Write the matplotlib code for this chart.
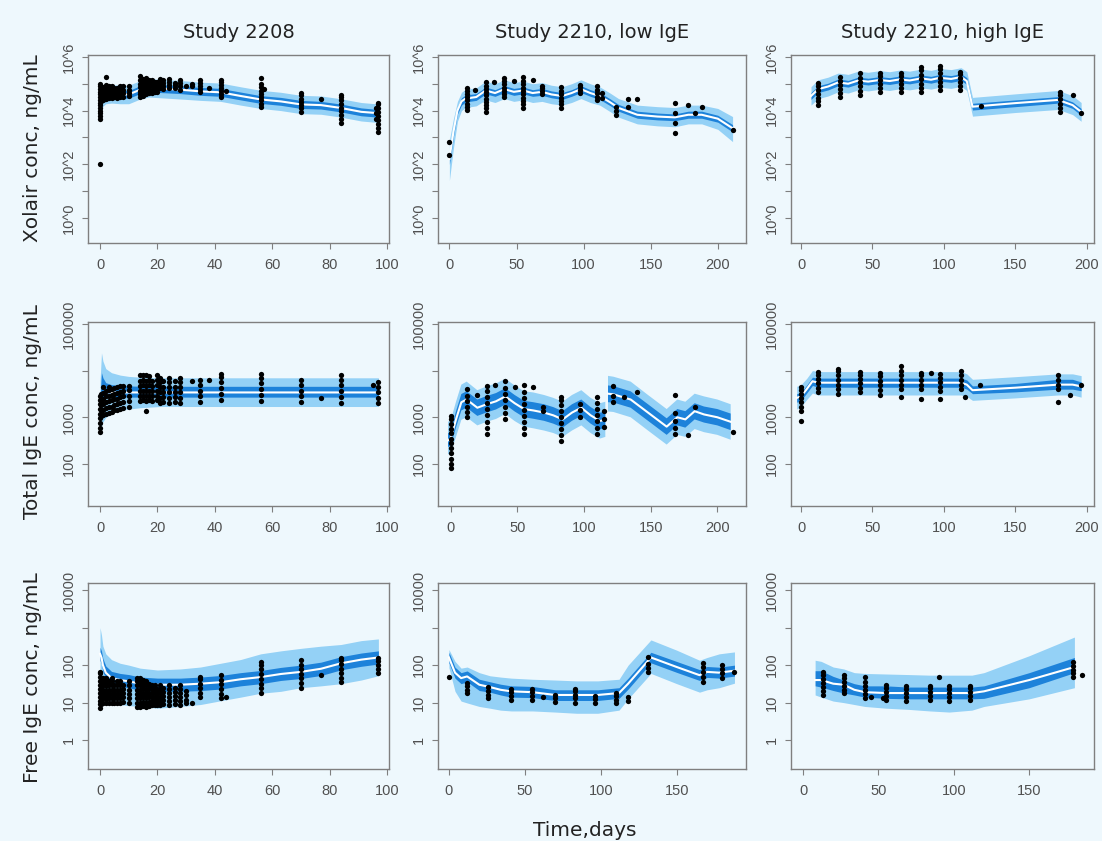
import matplotlib.pyplot as plt

W, H = 1102, 841
BG = "#eef8fd"
OUTER = "#94d1f6"
INNER = "#1d82da"
SPINE = "#7f7f7f"
TICKFONT = ["Liberation Sans Narrow", "Liberation Sans", "DejaVu Sans"]

TITLES = ["Study 2208", "Study 2210, low IgE", "Study 2210, high IgE"]
YLABELS = ["Xolair conc, ng/mL", "Total IgE conc, ng/mL", "Free IgE conc, ng/mL"]
XLABEL = "Time,days"

# ---------------- Xolair, study 2208 ----------------
A1_DAYS = [0, 0.5, 1, 2, 4, 7, 10, 14, 17, 21, 28, 35, 42, 49, 56, 63, 70, 77, 84, 91, 97]
A1_MED = [8000, 20000, 32000, 40000, 42000, 40000, 40000, 60000, 70000, 66000, 60000,
          52000, 48000, 35000, 26000, 22000, 17000, 16000, 12500, 9000, 8000]
A1_IN_LO = [5700, 14000, 23000, 29000, 30000, 29000, 29000, 43000, 50000, 47000, 43000,
            37000, 34000, 25000, 18500, 15700, 12000, 11400, 8900, 6400, 5700]
A1_IN_HI = [11000, 28000, 45000, 56000, 59000, 56000, 56000, 84000, 98000, 92000, 84000,
            73000, 67000, 49000, 36000, 31000, 24000, 22000, 17500, 12600, 11000]
A1_OUT_LO = [3600, 9000, 14500, 18000, 19000, 18000, 18000, 27000, 32000, 30000, 27000,
             24000, 22000, 16000, 12000, 10000, 7700, 7300, 5700, 4100, 3600]
A1_OUT_HI = [18000, 44000, 70000, 88000, 92000, 88000, 88000, 130000, 154000, 145000, 132000,
             114000, 106000, 77000, 57000, 48000, 37000, 35000, 27500, 20000, 17600]
A1_OBS = {
    0: [100, 5000, 6500, 8000, 10000, 13000, 16000, 20000, 25000, 32000, 40000, 50000, 63000, 80000, 100000],
    0.5: [22000, 30000, 40000, 52000, 65000],
    1: [25000, 33000, 44000, 58000, 75000],
    2: [28000, 37000, 50000, 66000, 90000, 180000],
    3: [30000, 40000, 52000, 70000, 85000],
    4: [30000, 40000, 52000, 68000, 85000],
    5: [32000, 42000, 55000, 72000],
    6: [30000, 40000, 52000, 70000],
    7: [32000, 42000, 55000, 75000, 85000],
    8: [33000, 44000, 58000, 80000],
    10: [35000, 46000, 60000, 80000],
    14: [32000, 42000, 56000, 75000, 100000, 135000, 200000],
    15: [35000, 46000, 62000, 82000, 110000, 150000],
    16: [40000, 52000, 70000, 95000, 125000, 170000],
    17: [45000, 60000, 80000, 105000, 140000],
    18: [45000, 60000, 80000, 105000, 140000],
    19: [50000, 66000, 88000, 115000],
    20: [50000, 66000, 88000, 120000],
    21: [70000, 90000, 115000, 150000],
    22: [65000, 85000, 110000, 140000],
    24: [70000, 90000, 115000, 150000],
    26: [68000, 88000, 110000],
    28: [60000, 80000, 105000, 135000],
    30: [85000],
    32: [80000, 100000],
    35: [50000, 65000, 85000, 110000, 140000],
    38: [70000],
    42: [32000, 42000, 55000, 70000, 90000, 120000, 140000],
    44: [55000],
    56: [13500, 18000, 24000, 32000, 42000, 55000, 75000, 100000, 160000],
    57: [63000],
    70: [9000, 12000, 16000, 21000, 28000, 37000, 46000],
    77: [27000],
    84: [3500, 5000, 7000, 9500, 13000, 18000, 25000, 33000, 38000],
    96: [5000, 8000, 12000],
    97: [1600, 2300, 3200, 4500, 6500, 9000, 12500, 17000, 19000],
}

# ---------------- Xolair, study 2210 low IgE ----------------
A2_DAYS = [0, 3, 6, 9, 12, 20, 27, 34, 41, 48, 55, 62, 69, 76, 84, 91, 98, 105, 112,
           120, 126, 140, 155, 168, 178, 188, 200, 211]
A2_MED = [160, 1600, 10000, 22000, 28000, 32000, 56000, 45000, 63000, 50000, 56000, 45000,
          50000, 40000, 35000, 45000, 63000, 45000, 35000, 20000, 12600, 7000, 6000, 5600,
          7000, 7000, 5000, 2200]
A2_IN_LO = [100, 1100, 7500, 16000, 21000, 24000, 42000, 34000, 47000, 37000, 42000, 34000,
            37000, 30000, 26000, 34000, 47000, 34000, 26000, 15000, 9500, 5200, 4500, 4200,
            5200, 5200, 3700, 1600]
A2_IN_HI = [260, 2300, 13500, 30000, 38000, 43000, 75000, 60000, 85000, 67000, 75000, 60000,
            67000, 54000, 47000, 60000, 85000, 60000, 47000, 27000, 17000, 9500, 8100, 7500,
            9500, 9500, 6700, 3000]
A2_OUT_LO = [25, 400, 4000, 10000, 13000, 15000, 25000, 20000, 28000, 22000, 25000, 20000,
             22000, 18000, 16000, 20000, 28000, 20000, 16000, 9000, 5700, 3200, 2700, 2500,
             3200, 3200, 2000, 700]
A2_OUT_HI = [800, 5000, 22000, 48000, 62000, 70000, 125000, 100000, 140000, 110000, 125000,
             100000, 110000, 88000, 77000, 100000, 140000, 100000, 77000, 44000, 28000, 16000,
             14000, 13000, 16000, 16000, 12000, 6000]
A2_OBS = {
    0: [220, 680],
    13: [10500, 14000, 18000, 24000, 32000, 42000, 55000, 69000],
    19: [59000],
    27: [9000, 12000, 16000, 21000, 28000, 37000, 50000, 65000, 85000, 117000],
    33: [117000],
    41: [32000, 42000, 55000, 72000, 95000, 125000, 158000],
    48: [125000],
    55: [12600, 17000, 23000, 30000, 40000, 53000, 70000, 95000, 125000, 178000],
    62: [138000],
    69: [42000, 55000, 70000, 83000],
    83: [12600, 17000, 23000, 30000, 40000, 55000, 76000],
    97: [46000, 60000, 75000, 91000],
    110: [25000, 33000, 44000, 58000, 83000],
    114: [30000, 46000],
    124: [7000, 9500, 13500],
    133: [27000, 13500],
    140: [27000],
    168: [19000, 8000, 3500, 1450],
    178: [16000],
    183: [8000],
    188: [13500],
    211: [1900],
}

# ---------------- Xolair, study 2210 high IgE ----------------
A3_DAYS = [7, 12, 19, 26, 33, 40, 47, 55, 62, 69, 76, 84, 91, 97, 105, 112, 116, 120,
           150, 180, 190, 196]
A3_MED = [35000, 63000, 79000, 112000, 100000, 132000, 120000, 138000, 126000, 145000, 132000,
          158000, 141000, 166000, 151000, 178000, 126000, 14000, 19000, 25000, 16000, 9000]
A3_IN_LO = [26000, 47000, 59000, 84000, 75000, 99000, 90000, 103000, 94000, 108000, 99000,
            118000, 105000, 124000, 113000, 133000, 94000, 10500, 14000, 19000, 12000, 6700]
A3_IN_HI = [47000, 84000, 105000, 150000, 133000, 176000, 160000, 184000, 168000, 193000,
            176000, 210000, 188000, 221000, 201000, 237000, 168000, 18700, 25000, 33000, 21000, 12000]
A3_OUT_LO = [16000, 28000, 35000, 50000, 45000, 59000, 54000, 62000, 56000, 65000, 59000,
             70000, 63000, 74000, 67000, 80000, 56000, 6200, 8500, 11000, 7100, 4000]
A3_OUT_HI = [78000, 140000, 176000, 250000, 223000, 294000, 267000, 307000, 280000, 323000,
             294000, 352000, 314000, 370000, 336000, 396000, 280000, 31000, 42000, 56000, 36000, 20000]
A3_OBS = {
    12: [16000, 22000, 30000, 42000, 58000, 80000, 107000],
    27: [32000, 45000, 63000, 90000, 125000, 178000],
    41: [38000, 55000, 80000, 115000, 160000, 250000],
    55: [50000, 70000, 100000, 140000, 200000, 250000],
    70: [50000, 70000, 100000, 140000, 200000, 250000],
    84: [50000, 70000, 100000, 150000, 220000, 320000, 430000],
    97: [59000, 85000, 120000, 170000, 250000, 350000, 460000],
    111: [59000, 85000, 120000, 170000, 240000, 275000],
    126: [14800],
    181: [9000, 13000, 18000, 26000, 37000, 50000],
    190: [38000],
    196: [8000],
}

# ---------------- Total IgE, study 2208 ----------------
B1_DAYS = [0, 0.5, 1, 2, 4, 7, 10, 14, 21, 28, 42, 56, 70, 84, 97]
B1_MED = [2000, 3000, 3300, 3400, 3400, 3400, 3400, 3400, 3400, 3400, 3400, 3400, 3400, 3400, 3400]
B1_IN_LO = [1500, 2300, 2500, 2600, 2700, 2700, 2700, 2700, 2700, 2700, 2700, 2700, 2700, 2700, 2700]
B1_IN_HI = [2800, 9000, 7000, 5500, 5000, 4800, 4700, 4600, 4600, 4600, 4600, 4600, 4600, 4600, 4600]
B1_OUT_LO = [600, 650, 800, 1000, 1200, 1400, 1500, 1600, 1700, 1700, 1700, 1700, 1700, 1700, 1700]
B1_OUT_HI = [6000, 24000, 16000, 11000, 9000, 8000, 7500, 7200, 7000, 7000, 7000, 7000, 7000, 7000, 7000]
B1_OBS = {
    0: [480, 600, 750, 950, 1200, 1500, 1900, 2400, 2800],
    0.5: [1050, 1400, 1800, 2400, 3200],
    1: [1100, 1450, 1900, 2500, 3300, 4500],
    2: [1200, 1600, 2100, 2800, 3700],
    3: [1250, 1650, 2200, 2900, 3900, 4500],
    4: [1300, 1700, 2300, 3000, 4000],
    5: [1400, 1850, 2450, 3200, 4300],
    6: [1450, 1900, 2500, 3300, 4400],
    7: [1500, 2000, 2700, 3500, 4600],
    8: [1600, 2100, 2800, 3700, 4600],
    10: [1700, 2200, 2900, 3800, 4600],
    14: [2200, 2800, 3600, 4600, 6000, 7900],
    15: [2300, 2900, 3700, 4800, 6200, 7900],
    16: [1350, 2200, 2800, 3600, 4600, 6000, 7900],
    17: [2300, 2900, 3700, 4800, 6200, 7600],
    18: [2200, 2800, 3600, 4600, 6000],
    20: [2300, 2900, 3700, 4800, 6200, 7900],
    21: [2000, 2600, 3400, 4400, 5800, 7000],
    22: [2100, 2700, 3500, 4500, 5900],
    24: [2000, 2600, 3400, 4400, 5800, 7000],
    26: [2100, 2700, 3500, 4500, 5900],
    28: [2000, 2600, 3400, 4400, 5800, 7000],
    32: [6000],
    35: [2100, 2800, 3700, 4800, 6300],
    38: [6300],
    42: [2400, 3200, 4200, 5600, 7400, 8300],
    56: [2200, 3000, 4000, 5300, 7000, 8300],
    70: [2100, 2800, 3700, 4800, 6300],
    77: [2600],
    84: [2000, 2700, 3600, 4800, 6400, 7900],
    95: [5000],
    97: [2000, 2600, 3400, 4400, 5600],
}

# ---------------- Total IgE, study 2210 low IgE ----------------
B2_DAYS = [-2, 0, 4, 8, 12, 20, 27, 34, 41, 48, 55, 62, 70, 77, 84, 91, 98, 105, 112,
           116, 117, 118, 122, 135, 148, 162, 170, 176, 183, 190, 200, 210]
B2_MED = [320, 350, 900, 2100, 2400, 1600, 1900, 2200, 2800, 2000, 1500, 1400, 1260, 1100,
          900, 1260, 1600, 1100, 830, 900, float("nan"), 3200, 3100, 2400, 1260, 630, 1000,
          900, 1350, 1150, 1000, 800]
B2_IN_LO = [230, 250, 600, 1400, 1600, 1070, 1270, 1470, 1870, 1330, 1000, 930, 840, 730,
            600, 840, 1070, 730, 550, 600, float("nan"), 2100, 2070, 1600, 840, 420, 670,
            600, 900, 770, 670, 530]
B2_IN_HI = [450, 500, 1350, 3150, 3600, 2400, 2850, 3300, 4200, 3000, 2250, 2100, 1900, 1650,
            1350, 1900, 2400, 1650, 1250, 1350, float("nan"), 4800, 4650, 3600, 1900, 950,
            1500, 1350, 2000, 1700, 1500, 1200]
B2_OUT_LO = [160, 170, 380, 880, 1000, 670, 800, 920, 1170, 830, 630, 580, 520, 460, 380,
             520, 670, 460, 350, 380, float("nan"), 1330, 1300, 1000, 520, 260, 420, 380,
             560, 480, 420, 330]
B2_OUT_HI = [800, 850, 2150, 5000, 5800, 3800, 4600, 5300, 6700, 4800, 3600, 3400, 3000,
             2600, 2150, 3000, 3800, 2600, 2000, 2150, float("nan"), 7700, 7400, 5800, 3000,
             1500, 2400, 2150, 3200, 2800, 2400, 1900]
B2_OBS = {
    0: [80, 100, 130, 170, 220, 280, 350, 450, 570, 720, 900, 1050],
    12: [1000, 1300, 1700, 2200, 2800, 4000],
    20: [3000],
    27: [440, 600, 800, 1100, 1500, 2000, 2700, 3600, 4600],
    33: [5000],
    41: [900, 1250, 1700, 2300, 3100, 4300, 5900],
    48: [4400],
    55: [440, 600, 800, 1050, 1400, 1900, 2600, 3500, 5000],
    62: [4400],
    69: [1350, 1700],
    83: [310, 420, 560, 750, 1000, 1350, 1800, 2300, 2700],
    97: [1000, 1400, 1900],
    110: [440, 600, 820, 1100, 1500, 2000, 2700],
    115: [630, 900, 1350],
    122: [2100, 2900, 4600],
    130: [2700],
    140: [3500],
    168: [3000, 1260, 850, 600, 440],
    178: [420],
    183: [1700],
    212: [480],
}

# ---------------- Total IgE, study 2210 high IgE ----------------
B3_DAYS = [-3, 0, 4, 8, 12, 26, 41, 55, 70, 84, 97, 112, 116, 120, 150, 180, 190, 196]
B3_MED = [2600, 2800, 4000, 5900, 5500, 5500, 5500, 5500, 5500, 5500, 5500, 5500, 5000, 3800,
          4300, 5000, 5000, 4600]
B3_IN_LO = [2100, 2300, 3300, 4800, 4400, 4400, 4400, 4400, 4400, 4400, 4400, 4400, 4000,
            3200, 3500, 4000, 4000, 3700]
B3_IN_HI = [3200, 3400, 4900, 7200, 6900, 6900, 6900, 6900, 6900, 6900, 6900, 6900, 6300,
            4700, 5300, 6500, 6500, 5700]
B3_OUT_LO = [1500, 1700, 2400, 3300, 3000, 3000, 3000, 3000, 3000, 3000, 3000, 3000, 2800,
             2300, 2600, 3000, 3000, 2700]
B3_OUT_HI = [4600, 5000, 6800, 10000, 9500, 9500, 9500, 9500, 9500, 9500, 9500, 9500, 8500,
             6500, 7400, 8500, 8500, 7800]
B3_OBS = {
    0: [830, 1350, 1700, 2100, 2600, 3200, 3900, 4400],
    12: [3500, 4300, 5300, 6600, 8100, 9500],
    26: [3200, 4000, 5000, 6300, 8000, 10000, 11000],
    41: [3500, 4300, 5300, 6600, 8100, 9500],
    55: [3000, 3800, 4800, 6000, 7500, 8700],
    70: [2700, 4000, 5000, 6300, 8000, 10000, 12500],
    84: [2500, 4000, 5000, 6300, 7900, 9000],
    91: [9000],
    97: [2500, 3600, 4500, 5600, 7100, 8600],
    112: [4000, 5000, 6300, 8000, 10000],
    115: [2700],
    125: [5000],
    180: [2100, 4000, 5000, 6300, 7900],
    188: [3000],
    196: [5000],
}

# ---------------- Free IgE, study 2208 ----------------
C1_DAYS = [0, 0.5, 1, 2, 4, 7, 10, 14, 20, 28, 35, 42, 49, 56, 63, 70, 77, 84, 91, 97]
C1_MED = [200, 160, 100, 63, 45, 40, 37, 32, 30, 30, 32, 35, 42, 48, 58, 66, 80, 112, 140, 160]
C1_IN_LO = [133, 107, 67, 42, 30, 27, 25, 21, 20, 20, 21, 23, 28, 32, 39, 44, 53, 75, 93, 107]
C1_IN_HI = [300, 240, 150, 95, 68, 60, 56, 48, 45, 45, 48, 53, 63, 72, 87, 100, 120, 168, 210, 240]
C1_OUT_LO = [40, 25, 16, 12.6, 10, 8.9, 8.3, 7.9, 7.1, 7.9, 8.9, 11.2, 14, 17.8, 20, 25, 28,
             32, 40, 52]
C1_OUT_HI = [1000, 630, 320, 200, 140, 112, 100, 83, 74, 79, 89, 112, 141, 200, 240, 280,
             320, 355, 450, 500]
C1_OBS = {
    0: [7, 9, 11, 14, 18, 23, 29, 37, 47, 60, 65],
    0.5: [9, 12, 16, 21, 28, 37],
    1: [9.8, 13, 17, 22, 29, 38, 45],
    2: [9.5, 12.5, 16, 21, 28, 36, 44],
    3: [9.8, 13, 17, 22, 29, 38],
    4: [10, 13, 17, 22, 29, 38, 45],
    5: [10, 13, 17, 22, 29],
    6: [10, 13, 17, 22, 29, 38],
    7: [10, 13, 17, 22, 29, 38],
    8: [10.5, 14, 18, 23, 30],
    10: [10, 13, 17, 22, 29, 38],
    13: [7.6, 10, 13, 17, 22, 29, 38, 45],
    14: [7.6, 10, 13, 17, 22, 29, 38, 45],
    15: [8, 10.5, 14, 18, 24, 31, 40],
    16: [7.6, 10, 13, 17, 22, 29, 38],
    17: [8, 10.5, 14, 18, 24, 31],
    18: [8.5, 11, 14, 18, 23, 29],
    19: [8.5, 11, 14, 18, 23, 29],
    20: [8.5, 11, 14, 18, 23],
    21: [8.5, 11, 14, 18, 23, 29],
    22: [9, 11.5, 15, 19, 25],
    24: [8.5, 11, 14, 18, 23, 29],
    26: [9, 11.5, 15, 19, 25],
    28: [8.5, 11, 14, 18, 23, 29],
    30: [9.5, 12, 16, 21],
    32: [9.8],
    35: [14, 18, 24, 32, 42, 48],
    42: [13, 17, 23, 31, 41, 54],
    44: [14],
    56: [18, 24, 32, 43, 58, 78, 100, 120],
    70: [25, 33, 44, 58, 78, 100, 135],
    77: [54],
    84: [35, 46, 60, 80, 105, 140, 155],
    97: [62, 80, 100, 130, 155],
}

# ---------------- Free IgE, study 2210 low IgE ----------------
C2_DAYS = [0, 4, 8, 12, 20, 27, 34, 41, 55, 70, 84, 98, 112, 118, 133, 150, 165, 170, 178, 188]
C2_MED = [160, 63, 45, 50, 30, 26, 22, 20, 19, 16, 16, 16, 18, 32, 160, 89, 54, 66, 63, 71]
C2_IN_LO = [115, 45, 32, 36, 21, 19, 16, 14, 13.6, 11.4, 11.4, 11.4, 13, 23, 115, 64, 39,
            47, 45, 51]
C2_IN_HI = [220, 88, 63, 70, 42, 36, 31, 28, 27, 22, 22, 22, 25, 45, 220, 125, 76, 92, 88, 100]
C2_OUT_LO = [85, 20, 11, 9.8, 7.9, 7.1, 6.3, 6, 6, 5.6, 5.2, 5.2, 6.3, 12.6, 60, 32, 19,
             22, 25, 33]
C2_OUT_HI = [260, 126, 83, 89, 63, 52, 48, 45, 42, 40, 38, 38, 42, 100, 470, 250, 135, 160,
             200, 225]
C2_OBS = {
    0: [48],
    12: [18, 22, 27, 33],
    26: [13, 16, 20, 26],
    41: [12, 15, 19, 23],
    55: [12, 15, 19, 23],
    62: [14],
    70: [10.5, 13, 16],
    83: [10, 13, 16, 20, 23],
    96: [10, 12.5, 15],
    110: [9.5, 12, 15, 18],
    118: [11, 14],
    131: [65, 85, 110, 160],
    167: [35, 48, 65, 90, 112],
    180: [45, 60, 80, 100],
    188: [65],
}

# ---------------- Free IgE, study 2210 high IgE ----------------
C3_DAYS = [8, 12, 20, 27, 34, 41, 55, 70, 84, 97, 112, 120, 150, 180]
C3_MED = [40, 40, 32, 30, 22, 19, 18, 18, 18, 18, 18, 20, 40, 89]
C3_IN_LO = [28, 26, 21, 18, 16, 14, 13, 12.6, 12.6, 12.6, 12.6, 13, 25, 63]
C3_IN_HI = [71, 71, 50, 40, 32, 28, 28, 26, 26, 26, 26, 28, 63, 160]
C3_OUT_LO = [16, 14, 11, 10, 8.9, 7.9, 7.1, 6.6, 6, 5.6, 6.3, 7.9, 12.6, 25]
C3_OUT_HI = [135, 126, 89, 79, 63, 60, 58, 56, 54, 54, 54, 63, 178, 560]
C3_OBS = {
    13: [16, 20, 26, 33, 42, 55, 65],
    27: [18, 22, 28, 36, 46, 54],
    41: [13, 17, 22, 28, 35, 48],
    45: [14],
    53: [13],
    55: [12, 15, 19, 24, 30],
    68: [11, 14, 18, 23, 27],
    84: [12, 15, 19, 24, 28],
    90: [48],
    97: [11, 14, 18, 23, 27],
    111: [12, 15, 19, 24, 28],
    179: [48, 60, 75, 95, 120],
    185: [54],
}

# axis tick settings per row
ROW_YTICKS = [[1, 10, 100, 1e3, 1e4, 1e5, 1e6], [100, 1e3, 1e4, 1e5], [1, 10, 100, 1e3, 1e4]]
ROW_YLABELS = [["10^0", "", "10^2", "", "10^4", "", "10^6"],
               ["100", "1000", "", "100000"],
               ["1", "10", "100", "", "10000"]]
ROW_YLIM = [(10 ** -0.93, 10 ** 6.07), (10 ** 1.1, 10 ** 5.04), (10 ** -0.77, 10 ** 4.19)]
XT_A = [0, 20, 40, 60, 80, 100]
XT_B = [0, 50, 100, 150, 200]
XT_C = [0, 50, 100, 150]

PANELS = [
    # row, col, data, xticks, xlim
    (0, 0, (A1_DAYS, A1_MED, A1_IN_LO, A1_IN_HI, A1_OUT_LO, A1_OUT_HI, A1_OBS), XT_A, (-4.2, 100.7)),
    (0, 1, (A2_DAYS, A2_MED, A2_IN_LO, A2_IN_HI, A2_OUT_LO, A2_OUT_HI, A2_OBS), XT_B, (-8.5, 221)),
    (0, 2, (A3_DAYS, A3_MED, A3_IN_LO, A3_IN_HI, A3_OUT_LO, A3_OUT_HI, A3_OBS), XT_B, (-7, 205)),
    (1, 0, (B1_DAYS, B1_MED, B1_IN_LO, B1_IN_HI, B1_OUT_LO, B1_OUT_HI, B1_OBS), XT_A, (-4.2, 100.7)),
    (1, 1, (B2_DAYS, B2_MED, B2_IN_LO, B2_IN_HI, B2_OUT_LO, B2_OUT_HI, B2_OBS), XT_B, (-9.5, 221.5)),
    (1, 2, (B3_DAYS, B3_MED, B3_IN_LO, B3_IN_HI, B3_OUT_LO, B3_OUT_HI, B3_OBS), XT_B, (-7, 205)),
    (2, 0, (C1_DAYS, C1_MED, C1_IN_LO, C1_IN_HI, C1_OUT_LO, C1_OUT_HI, C1_OBS), XT_A, (-4.2, 100.7)),
    (2, 1, (C2_DAYS, C2_MED, C2_IN_LO, C2_IN_HI, C2_OUT_LO, C2_OUT_HI, C2_OBS), XT_C, (-7.2, 195.6)),
    (2, 2, (C3_DAYS, C3_MED, C3_IN_LO, C3_IN_HI, C3_OUT_LO, C3_OUT_HI, C3_OBS), XT_C, (-8, 193)),
]

# layout in pixels
COL_LEFT = [88, 438, 791]
COL_W = [301, 308, 303]
ROW_TOP = [55, 322, 583]
ROW_H = [188, 184, 186]


def draw(ax, days, med, in_lo, in_hi, out_lo, out_hi, obs):
    ax.fill_between(days, out_lo, out_hi, color=OUTER, lw=0, zorder=1)
    ax.fill_between(days, in_lo, in_hi, color=INNER, lw=0, zorder=2)
    ax.plot(days, med, color="white", lw=1.5, zorder=3)
    for day, vals in obs.items():
        ax.plot([day] * len(vals), vals, "o", color="black", ms=3.8, mew=0, zorder=4)


def main():
    plt.rcParams["font.family"] = "DejaVu Sans"
    fig = plt.figure(figsize=(W / 100, H / 100), dpi=100, facecolor=BG)

    for row, col, data, xticks, xlim in PANELS:
        l, w = COL_LEFT[col], COL_W[col]
        t, h = ROW_TOP[row], ROW_H[row]
        ax = fig.add_axes([l / W, (H - t - h) / H, w / W, h / H], facecolor=BG)
        draw(ax, *data)
        ax.set_yscale("log")
        ax.set_ylim(*ROW_YLIM[row])
        ax.set_xlim(*xlim)
        ax.minorticks_off()
        ax.set_yticks(ROW_YTICKS[row])
        ax.set_yticklabels(ROW_YLABELS[row], rotation=90, va="center")
        ax.set_xticks(xticks)
        ax.set_xticklabels([str(v) for v in xticks])
        ax.tick_params(axis="both", length=4, width=0.8, color=SPINE, labelcolor="#505050",
                       labelsize=10.5)
        ax.tick_params(axis="x", pad=7)
        ax.tick_params(axis="y", pad=5)
        for lab in ax.get_xticklabels() + ax.get_yticklabels():
            lab.set_fontfamily(TICKFONT)
        for s in ax.spines.values():
            s.set_color(SPINE)
            s.set_linewidth(1)

    for col in range(3):
        cx = (COL_LEFT[col] + COL_W[col] / 2) / W
        fig.text(cx, 1 - 38 / H, TITLES[col], ha="center", va="baseline", fontsize=14,
                 color="#222222")
    for row, cy in enumerate([148, 412, 678]):
        fig.text(33 / W, 1 - cy / H, YLABELS[row], rotation=90, ha="center", va="center",
                 fontsize=14.5, color="#222222")
    fig.text(585 / W, 1 - 836 / H, XLABEL, ha="center", va="baseline", fontsize=14.5,
             color="#222222")

    fig.savefig("out.png", dpi=100, facecolor=BG)


if __name__ == "__main__":
    main()
